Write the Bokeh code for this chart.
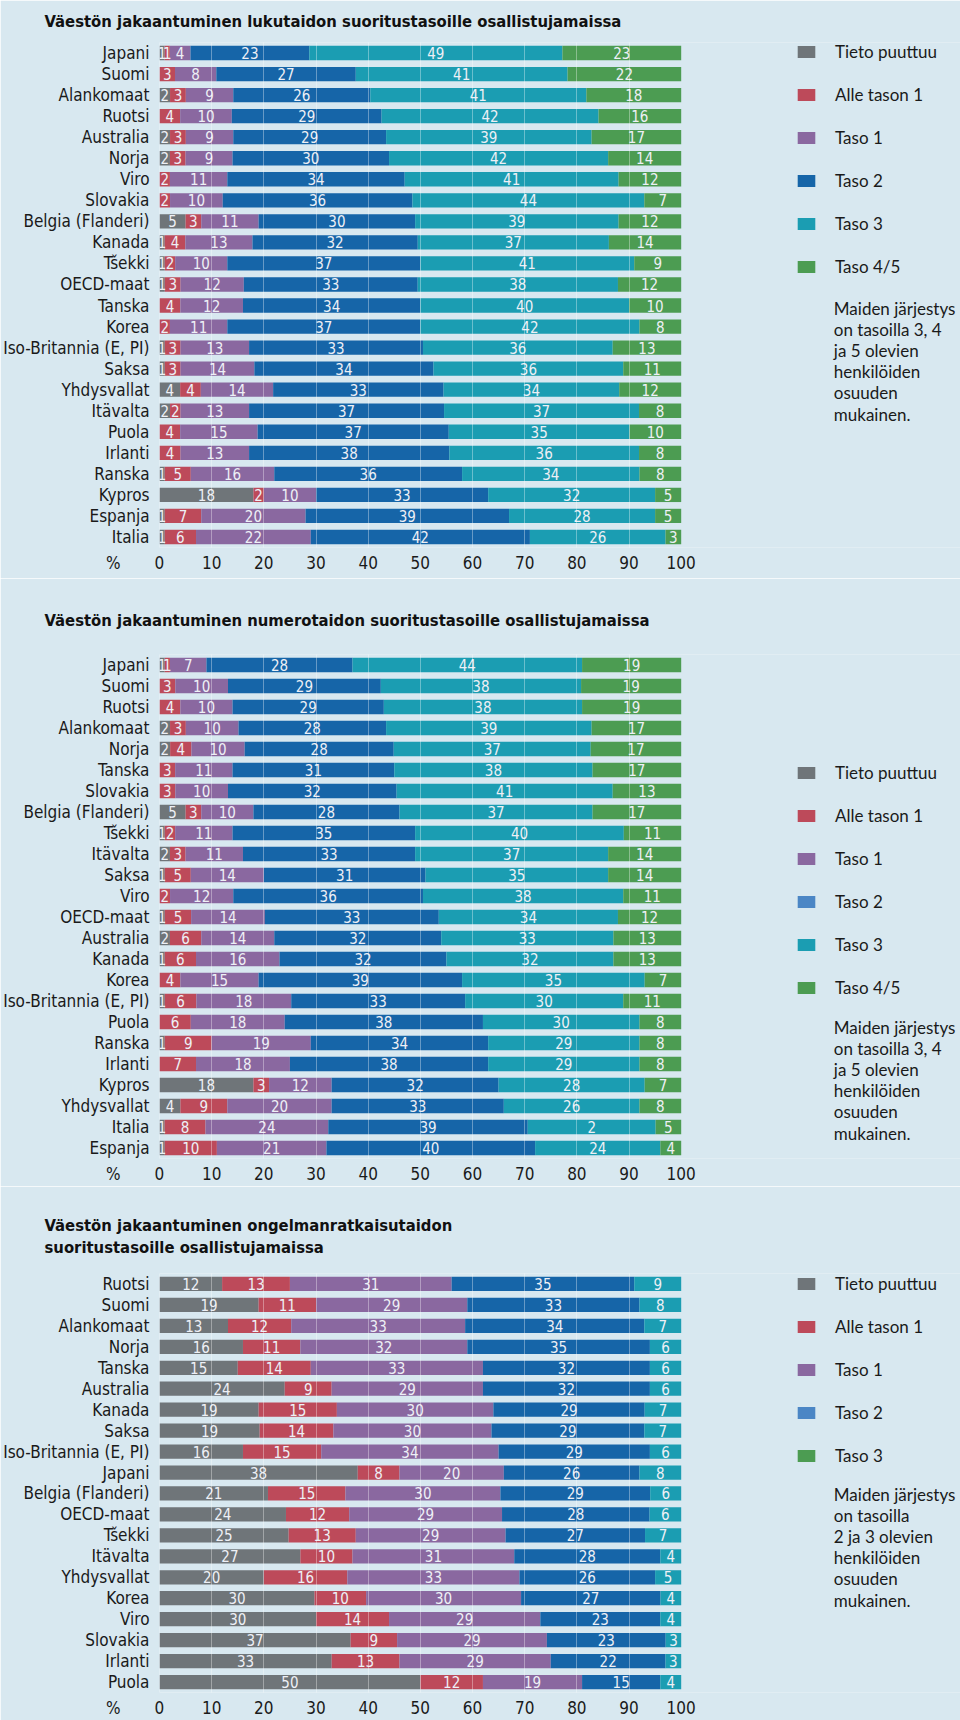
import numpy as np
from bokeh.plotting import figure
from bokeh.models import (Range1d, FixedTicker, Legend, LegendItem, Label, ColumnDataSource,
                          AllLabels)
from bokeh.layouts import column
from bokeh.embed import file_html
from bokeh.resources import INLINE
from bokeh.core.properties import value

# ---------------- data ----------------
x_ticks = [0, 10, 20, 30, 40, 50, 60, 70, 80, 90, 100]
x_unit_label = "%"

lit_title = "Väestön jakaantuminen lukutaidon suoritustasoille osallistujamaissa"
lit_countries = ["Japani", "Suomi", "Alankomaat", "Ruotsi", "Australia", "Norja", "Viro",
                 "Slovakia", "Belgia (Flanderi)", "Kanada", "Tšekki", "OECD-maat", "Tanska",
                 "Korea", "Iso-Britannia (E, PI)", "Saksa", "Yhdysvallat", "Itävalta", "Puola",
                 "Irlanti", "Ranska", "Kypros", "Espanja", "Italia"]
lit_missing = [1, 0, 2, 0, 2, 2, 0, 0, 5, 1, 1, 1, 0, 0, 1, 1, 4, 2, 0, 0, 1, 18, 1, 1]
lit_below1 = [1, 3, 3, 4, 3, 3, 2, 2, 3, 4, 2, 3, 4, 2, 3, 3, 4, 2, 4, 4, 5, 2, 7, 6]
lit_level1 = [4, 8, 9, 10, 9, 9, 11, 10, 11, 13, 10, 12, 12, 11, 13, 14, 14, 13, 15, 13, 16, 10, 20, 22]
lit_level2 = [23, 27, 26, 29, 29, 30, 34, 36, 30, 32, 37, 33, 34, 37, 33, 34, 33, 37, 37, 38, 36, 33, 39, 42]
lit_level3 = [49, 41, 41, 42, 39, 42, 41, 44, 39, 37, 41, 38, 40, 42, 36, 36, 34, 37, 35, 36, 34, 32, 28, 26]
lit_level45 = [23, 22, 18, 16, 17, 14, 12, 7, 12, 14, 9, 12, 10, 8, 13, 11, 12, 8, 10, 8, 8, 5, 5, 3]

num_title = "Väestön jakaantuminen numerotaidon suoritustasoille osallistujamaissa"
num_countries = ["Japani", "Suomi", "Ruotsi", "Alankomaat", "Norja", "Tanska", "Slovakia",
                 "Belgia (Flanderi)", "Tšekki", "Itävalta", "Saksa", "Viro", "OECD-maat",
                 "Australia", "Kanada", "Korea", "Iso-Britannia (E, PI)", "Puola", "Ranska",
                 "Irlanti", "Kypros", "Yhdysvallat", "Italia", "Espanja"]
num_missing = [1, 0, 0, 2, 2, 0, 0, 5, 1, 2, 1, 0, 1, 2, 1, 0, 1, 0, 1, 0, 18, 4, 1, 1]
num_below1 = [1, 3, 4, 3, 4, 3, 3, 3, 2, 3, 5, 2, 5, 6, 6, 4, 6, 6, 9, 7, 3, 9, 8, 10]
num_level1 = [7, 10, 10, 10, 10, 11, 10, 10, 11, 11, 14, 12, 14, 14, 16, 15, 18, 18, 19, 18, 12, 20, 24, 21]
num_level2 = [28, 29, 29, 28, 28, 31, 32, 28, 35, 33, 31, 36, 33, 32, 32, 39, 33, 38, 34, 38, 32, 33, 39, 40]
num_level3 = [44, 38, 38, 39, 37, 38, 41, 37, 40, 37, 35, 38, 34, 33, 32, 35, 30, 30, 29, 29, 28, 26, 25, 24]
num_level45 = [19, 19, 19, 17, 17, 17, 13, 17, 11, 14, 14, 11, 12, 13, 13, 7, 11, 8, 8, 8, 7, 8, 5, 4]
num_label_overrides = {("Italia", 4): "2"}

ps_title = "Väestön jakaantuminen ongelmanratkaisutaidon\nsuoritustasoille osallistujamaissa"
ps_countries = ["Ruotsi", "Suomi", "Alankomaat", "Norja", "Tanska", "Australia", "Kanada",
                "Saksa", "Iso-Britannia (E, PI)", "Japani", "Belgia (Flanderi)", "OECD-maat",
                "Tšekki", "Itävalta", "Yhdysvallat", "Korea", "Viro", "Slovakia", "Irlanti", "Puola"]
ps_missing = [12, 19, 13, 16, 15, 24, 19, 19, 16, 38, 21, 24, 25, 27, 20, 30, 30, 37, 33, 50]
ps_below1 = [13, 11, 12, 11, 14, 9, 15, 14, 15, 8, 15, 12, 13, 10, 16, 10, 14, 9, 13, 12]
ps_level1 = [31, 29, 33, 32, 33, 29, 30, 30, 34, 20, 30, 29, 29, 31, 33, 30, 29, 29, 29, 19]
ps_level2 = [35, 33, 34, 35, 32, 32, 29, 29, 29, 26, 29, 28, 27, 28, 26, 27, 23, 23, 22, 15]
ps_level3 = [9, 8, 7, 6, 6, 6, 7, 7, 6, 8, 6, 6, 7, 4, 5, 4, 4, 3, 3, 4]

legend_labels_6 = ["Tieto puuttuu", "Alle tason 1", "Taso 1", "Taso 2", "Taso 3", "Taso 4/5"]
legend_labels_5 = ["Tieto puuttuu", "Alle tason 1", "Taso 1", "Taso 2", "Taso 3"]
note_345 = ["Maiden järjestys", "on tasoilla 3, 4", "ja 5 olevien", "henkilöiden", "osuuden", "mukainen."]
note_23 = ["Maiden järjestys", "on tasoilla", "2 ja 3 olevien", "henkilöiden", "osuuden", "mukainen."]

# ---------------- styles ----------------
BG = "#d8e8f0"
GREY = "#6f7579"
RED = "#bd4a5a"
PURPLE = "#8a68a0"
BLUE = "#1665a8"
TEAL = "#1b9db2"
GREEN = "#4c9c52"
LIGHT_BLUE = "#4b86c5"
NARROW = "Liberation Sans Narrow, DejaVu Sans Condensed, sans-serif"
SANS = "Lato"
DARK = "#1a1a1a"

FIG_W = 960
FRAME_LEFT = 157          # page px of value 0
PX_PER_UNIT = 5.23        # page px per percent
NBSP = "\u00a0"


def build_chart(title, countries, series, bar_colors, legend_labels, legend_colors,
                note_lines, g, overrides=None):
    overrides = overrides or {}
    n = len(countries)
    frame_h = round(n * g["pitch"])
    pitch = frame_h / n
    H = g["height"]
    top = g["top"]
    frame_w = FIG_W - FRAME_LEFT
    x_end = frame_w / PX_PER_UNIT
    p = figure(width=FIG_W, height=H, x_range=Range1d(0, x_end), y_range=Range1d(n - 0.5, -0.5),
               output_backend="svg", toolbar_location=None,
               min_border_left=FRAME_LEFT, min_border_right=0,
               min_border_top=top, min_border_bottom=H - top - frame_h,
               background_fill_color=BG, border_fill_color=BG, outline_line_color=None)

    row0_page = g["y0"] + top + pitch / 2.0

    def xdata(px):
        return (px - FRAME_LEFT) / PX_PER_UNIT

    def ydata(py):
        return (py - row0_page) / pitch

    vals = np.array(series, dtype=float)
    totals = vals.sum(axis=0)
    scaled = vals * 100.0 / totals
    rights = np.cumsum(scaled, axis=0)
    lefts = rights - scaled

    sources, renderers = [], []
    for k in range(vals.shape[0]):
        src = ColumnDataSource(dict(y=list(range(n)), left=lefts[k], right=rights[k]))
        r = p.hbar(y="y", left="left", right="right", height=0.68, fill_color=bar_colors[k],
                   line_color=None, source=src)
        sources.append(src)
        renderers.append(r)

    tx, ty, tt = [], [], []
    for k in range(vals.shape[0]):
        for i in range(n):
            if vals[k, i] > 0:
                tx.append((lefts[k, i] + rights[k, i]) / 2.0)
                ty.append(i)
                tt.append(overrides.get((countries[i], k), str(int(vals[k, i]))))
    p.text(x=tx, y=ty, text=tt, text_align="center", text_baseline="middle",
           text_font=value(NARROW), text_font_size="15px", text_color="#eef0f6")

    # axes
    p.xaxis.ticker = FixedTicker(ticks=x_ticks)
    p.xaxis.major_label_overrides = {0: x_unit_label + NBSP * 7 + "0" + NBSP * 10}
    p.xaxis.major_label_policy = AllLabels()
    p.xaxis.axis_line_color = None
    p.xaxis.major_tick_line_color = None
    p.xaxis.minor_tick_line_color = None
    p.xaxis.major_tick_out = 0
    p.xaxis.major_tick_in = 0
    p.xaxis.major_label_standoff = 5
    p.xaxis.major_label_text_font = NARROW
    p.xaxis.major_label_text_font_size = "17px"
    p.xaxis.major_label_text_color = DARK

    p.yaxis.ticker = FixedTicker(ticks=list(range(n)))
    p.yaxis.major_label_overrides = {i: c for i, c in enumerate(countries)}
    p.yaxis.axis_line_color = None
    p.yaxis.major_tick_line_color = None
    p.yaxis.minor_tick_line_color = None
    p.yaxis.major_tick_out = 0
    p.yaxis.major_tick_in = 0
    p.yaxis.major_label_standoff = 10
    p.yaxis.major_label_text_font = NARROW
    p.yaxis.major_label_text_font_size = "17px"
    p.yaxis.major_label_text_color = DARK

    p.xgrid.ticker = FixedTicker(ticks=x_ticks[1:-1])
    p.xgrid.grid_line_color = "white"
    p.xgrid.grid_line_alpha = 0.35
    p.xgrid.level = "overlay"
    p.xgrid.bounds = (0, 100)
    p.ygrid.visible = False

    # title
    p.title.text = title
    p.title.align = "left"
    p.title.offset = 42 - FRAME_LEFT
    p.title.text_font = NARROW
    p.title.text_font_size = "16.5px"
    p.title.text_font_style = "bold"
    p.title.text_color = "#111111"
    p.title.text_line_height = g["title_lh"]
    p.title.vertical_align = g["title_valign"]
    p.title.standoff = g["title_standoff"]

    # legend (colours as printed in the original key)
    items = []
    for k, (lab, col) in enumerate(zip(legend_labels, legend_colors)):
        if col == bar_colors[k]:
            r = renderers[k]
        else:
            r = p.hbar(y="y", left="left", right="right", height=0.68, fill_color=col,
                       line_color=None, source=sources[k], visible=False)
        items.append(LegendItem(label=lab, renderers=[r]))
    legend = Legend(items=items, location=(793 - FRAME_LEFT, g["legend_vy"]),
                    glyph_width=22, glyph_height=15, label_height=20, label_standoff=18,
                    spacing=22, padding=0, margin=0,
                    border_line_color=None, background_fill_alpha=0,
                    inactive_fill_alpha=0,
                    label_text_font=SANS, label_text_font_size="17px",
                    label_text_color=DARK)
    p.add_layout(legend)

    # note
    for j, line in enumerate(note_lines):
        p.add_layout(Label(x=xdata(833), y=ydata(g["note_y"] + j * 21.1), text=line,
                           text_font=SANS, text_font_size="17px", text_color=DARK,
                           text_baseline="middle", text_align="left"))
    return p


colors6 = [GREY, RED, PURPLE, BLUE, TEAL, GREEN]
colors5 = [GREY, RED, PURPLE, BLUE, TEAL]

p1 = build_chart(lit_title, lit_countries,
                 [lit_missing, lit_below1, lit_level1, lit_level2, lit_level3, lit_level45],
                 colors6, legend_labels_6, colors6, note_345,
                 dict(y0=0, height=578, top=42, pitch=21.04, title_valign="top",
                      title_standoff=20, title_lh=1.2, legend_vy=270, note_y=308))

p2 = build_chart(num_title, num_countries,
                 [num_missing, num_below1, num_level1, num_level2, num_level3, num_level45],
                 colors6, legend_labels_6, [GREY, RED, PURPLE, LIGHT_BLUE, TEAL, GREEN], note_345,
                 dict(y0=578, height=608, top=76, pitch=21.04, title_valign="bottom",
                      title_standoff=50, title_lh=1.2, legend_vy=160, note_y=1028),
                 overrides=num_label_overrides)

p3 = build_chart(ps_title, ps_countries,
                 [ps_missing, ps_below1, ps_level1, ps_level2, ps_level3],
                 colors5, legend_labels_5, [GREY, RED, PURPLE, LIGHT_BLUE, GREEN], note_23,
                 dict(y0=1186, height=534, top=87, pitch=20.96, title_valign="bottom",
                      title_standoff=32, title_lh=1.18, legend_vy=226, note_y=1494))

layout = column(p1, p2, p3, spacing=0)
open("out.html", "w").write(file_html(layout, INLINE))
